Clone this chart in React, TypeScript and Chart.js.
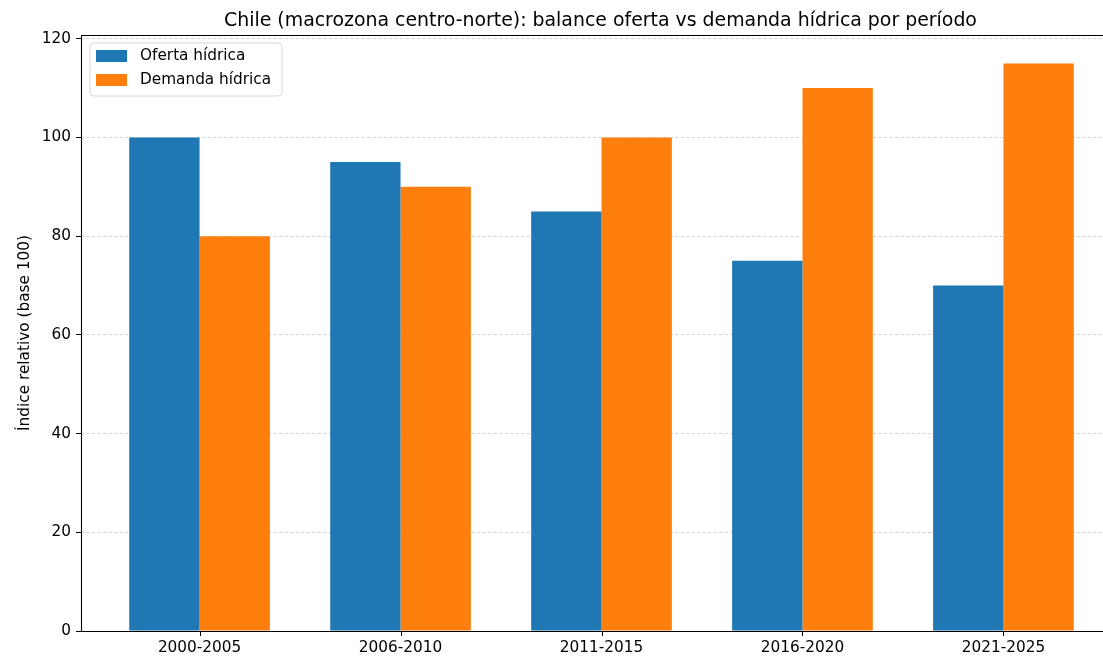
import React, { useEffect, useRef } from "react";
import { Chart, registerables } from "chart.js";

Chart.register(...registerables);

const categories = ["2000-2005", "2006-2010", "2011-2015", "2016-2020", "2021-2025"];
const ofertaValues = [100, 95, 85, 75, 70];
const demandaValues = [80, 90, 100, 110, 115];
const yTicks = [0, 20, 40, 60, 80, 100, 120];
const seriesNames = ["Oferta hídrica", "Demanda hídrica"];
const seriesColors = ["#1f77b4", "#ff7f0e"];
const titleText = "Chile (macrozona centro-norte): balance oferta vs demanda hídrica por período";
const yLabelText = "Índice relativo (base 100)";

const FONT = "'DejaVu Sans', sans-serif";
const CANVAS_W = 1125;
const CANVAS_H = 658;

const decorPlugin = {
  id: "decor",
  afterDraw(chart: any) {
    const { ctx, chartArea } = chart;
    const { left, right, top, bottom } = chartArea;
    ctx.save();
    // spines
    ctx.strokeStyle = "#000";
    ctx.lineWidth = 1.1;
    ctx.beginPath();
    ctx.moveTo(left + 0.5, top);
    ctx.lineTo(left + 0.5, bottom + 0.5);
    ctx.lineTo(right, bottom + 0.5);
    ctx.moveTo(left, top + 0.5);
    ctx.lineTo(right, top + 0.5);
    ctx.moveTo(right - 0.5, top);
    ctx.lineTo(right - 0.5, bottom);
    ctx.stroke();

    // x tick marks
    const xs = chart.scales.x;
    ctx.lineWidth = 1;
    ctx.beginPath();
    categories.forEach((_, i) => {
      const px = Math.round(xs.getPixelForValue(i)) + 0.5;
      ctx.moveTo(px, bottom);
      ctx.lineTo(px, bottom + 5);
    });
    ctx.stroke();

    // title
    ctx.fillStyle = "#000";
    ctx.font = `18.9px ${FONT}`;
    ctx.textAlign = "center";
    ctx.textBaseline = "alphabetic";
    ctx.fillText(titleText, (left + right) / 2, 25.5);

    // y label
    ctx.save();
    ctx.translate(25, (top + bottom) / 2);
    ctx.rotate(-Math.PI / 2);
    ctx.font = `15.3px ${FONT}`;
    ctx.textAlign = "center";
    ctx.textBaseline = "middle";
    ctx.fillText(yLabelText, 0, 0);
    ctx.restore();

    // legend
    const lx = 90, ly = 43, lw = 192, lh = 53, r = 4;
    ctx.beginPath();
    ctx.moveTo(lx + r, ly);
    ctx.lineTo(lx + lw - r, ly);
    ctx.quadraticCurveTo(lx + lw, ly, lx + lw, ly + r);
    ctx.lineTo(lx + lw, ly + lh - r);
    ctx.quadraticCurveTo(lx + lw, ly + lh, lx + lw - r, ly + lh);
    ctx.lineTo(lx + r, ly + lh);
    ctx.quadraticCurveTo(lx, ly + lh, lx, ly + lh - r);
    ctx.lineTo(lx, ly + r);
    ctx.quadraticCurveTo(lx, ly, lx + r, ly);
    ctx.closePath();
    ctx.fillStyle = "rgba(255,255,255,0.8)";
    ctx.fill();
    ctx.strokeStyle = "#d6d6d6";
    ctx.lineWidth = 1;
    ctx.stroke();

    ctx.font = `15.3px ${FONT}`;
    ctx.textAlign = "left";
    ctx.textBaseline = "middle";
    seriesNames.forEach((name, i) => {
      const cy = 56 + i * 24;
      ctx.fillStyle = seriesColors[i];
      ctx.fillRect(96, cy - 6, 31, 12);
      ctx.fillStyle = "#000";
      ctx.fillText(name, 140, cy);
    });
    ctx.restore();
  },
};

export default function App() {
  const ref = useRef<HTMLCanvasElement | null>(null);
  useEffect(() => {
    if (!ref.current) return;
    const chart = new Chart(ref.current, {
      type: "bar",
      data: {
        datasets: [
          {
            label: seriesNames[0],
            data: ofertaValues.map((v, i) => ({ x: i, y: v })),
            backgroundColor: seriesColors[0],
            borderWidth: 0,
          },
          {
            label: seriesNames[1],
            data: demandaValues.map((v, i) => ({ x: i, y: v })),
            backgroundColor: seriesColors[1],
            borderWidth: 0,
          },
        ],
      },
      options: {
        responsive: false,
        animation: false,
        devicePixelRatio: 1,
        datasets: { bar: { categoryPercentage: 0.7, barPercentage: 1.0 } },
        layout: { padding: { left: 0, top: 35, right: CANVAS_W - 1120, bottom: 0 } },
        plugins: { legend: { display: false }, title: { display: false }, tooltip: { enabled: false } },
        scales: {
          x: {
            type: "linear",
            min: -0.59,
            max: 4.58,
            offset: false,
            afterBuildTicks: (scale: any) => {
              scale.ticks = categories.map((_, i) => ({ value: i }));
            },
            afterFit: (scale: any) => {
              scale.height = 27;
            },
            ticks: {
              autoSkip: false,
              maxRotation: 0,
              padding: 8,
              color: "#000",
              font: { family: FONT, size: 15.3 },
              callback: (v: any) => categories[Math.round(Number(v))] ?? "",
            },
            grid: {
              display: true,
              offset: false,
              drawOnChartArea: false,
              drawTicks: false,
            },
            border: { display: false },
          },
          y: {
            min: 0,
            max: 120.75,
            afterBuildTicks: (scale: any) => {
              scale.ticks = yTicks.map((v) => ({ value: v }));
            },
            afterFit: (scale: any) => {
              scale.width = 81;
            },
            ticks: {
              padding: 5,
              color: "#000",
              font: { family: FONT, size: 15.3 },
            },
            grid: {
              display: true,
              drawOnChartArea: true,
              drawTicks: true,
              tickLength: 5,
              tickColor: "#000",
              tickWidth: 1,
              color: "rgba(176,176,176,0.5)",
              lineWidth: 1,
            },
            border: { display: false, dash: [3.5, 2] },
          },
        },
      },
      plugins: [decorPlugin],
    } as any);
    return () => chart.destroy();
  }, []);
  return (
    <div style={{ position: "absolute", left: 0, top: 0, width: 1103, height: 658, overflow: "hidden", background: "#fff" }}>
      <canvas ref={ref} width={CANVAS_W} height={CANVAS_H} style={{ width: CANVAS_W, height: CANVAS_H, display: "block" }} />
    </div>
  );
}
